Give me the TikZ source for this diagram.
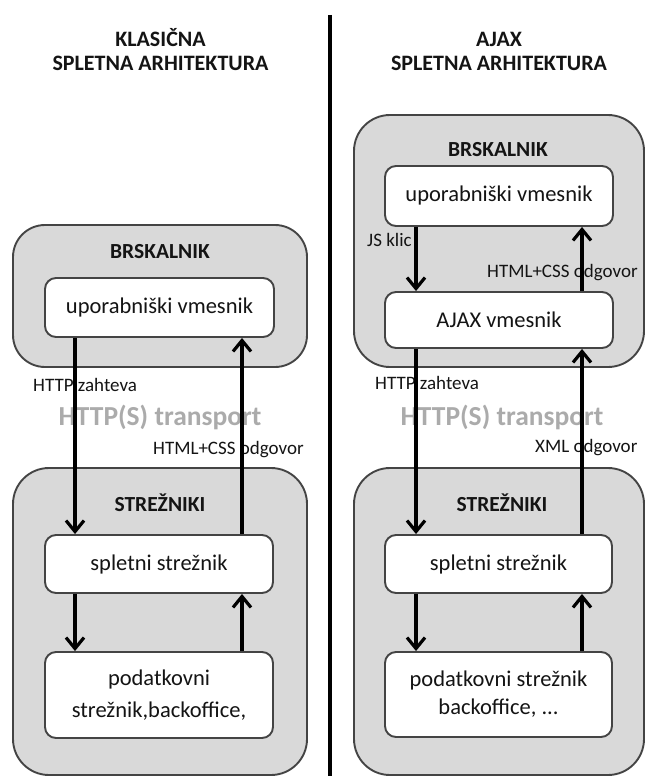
\documentclass[tikz,border=0pt]{standalone}
\usepackage{fontspec}
\setmainfont{Carlito}
\usetikzlibrary{arrows.meta}
\definecolor{boxline}{HTML}{444444}
\definecolor{outerfill}{HTML}{D9D9D9}
\definecolor{transportgray}{HTML}{ABABAB}
\definecolor{inktext}{HTML}{141414}

\begin{document}
\begin{tikzpicture}[x=1pt,y=-1pt,
  outerbox/.style={draw=boxline, fill=outerfill, line width=1.9pt, rounded corners=32pt, inner sep=0pt},
  innerbox/.style={draw=boxline, fill=white, line width=1.9pt, rounded corners=11pt, inner sep=0pt,
    text=inktext, font=\fontsize{22.5}{31}\selectfont, align=center},
  title/.style={font=\bfseries\fontsize{22}{24}\selectfont, align=center, text=inktext},
  grouplabel/.style={font=\bfseries\fontsize{21.5}{23}\selectfont, text=inktext},
  flowlabel/.style={font=\fontsize{19}{21}\selectfont, text=inktext, anchor=west, inner sep=0pt},
  transport/.style={font=\bfseries\fontsize{27.5}{30}\selectfont, text=transportgray},
  arr/.style={line width=3.2pt, -{Straight Barb[length=11pt,width=18pt,line width=3.2pt]}},
  divider/.style={line width=3.8pt}
]
\useasboundingbox (0,0) rectangle (650,776);

% column titles and the separating rule
\node[title] (tL) at (160.5,50) {KLASIČNA\\SPLETNA ARHITEKTURA};
\node[title] (tR) at (499,51.5) {AJAX\\SPLETNA ARHITEKTURA};
\coordinate (divTop) at (330,15);
\coordinate (divBot) at (330,776);
\draw[divider] (divTop) -- (divBot);

% ---------- classic architecture ----------
\node[outerbox, minimum width=294pt, minimum height=142pt] (brL) at (160,296) {};
\node[grouplabel] (brLlab) at (160,252) {BRSKALNIK};
\node[innerbox, minimum width=229pt, minimum height=59pt] (upL) at (159.5,307.5) {uporabniški vmesnik};

\node[outerbox, minimum width=294pt, minimum height=307pt, rounded corners=36pt] (szL) at (160,621.5) {};
\node[grouplabel] (szLlab) at (160,503) {STREŽNIKI};
\node[innerbox, minimum width=228pt, minimum height=58pt] (spL) at (159,564) {spletni strežnik};
\node[innerbox, minimum width=228pt, minimum height=86pt, font=\fontsize{22.5}{32}\selectfont] (dbL) at (159,695) {podatkovni\\strežnik,backoffice,};

\node[flowlabel] (htL) at (33,385) {HTTP zahteva};
\node[transport] (trL) at (160,417) {HTTP(S) transport};
\node[flowlabel] (odL) at (153,450) {HTML+CSS odgovor};

% ---------- AJAX architecture ----------
\node[outerbox, minimum width=290pt, minimum height=252pt, rounded corners=36pt] (brR) at (499,241) {};
\node[grouplabel] (brRlab) at (498,150) {BRSKALNIK};
\node[innerbox, minimum width=228pt, minimum height=60pt] (upR) at (499,196) {uporabniški vmesnik};
\node[innerbox, minimum width=228pt, minimum height=56pt] (ajR) at (499,320) {AJAX vmesnik};
\node[flowlabel] (jsR) at (367,240) {JS klic};
\node[flowlabel] (odR) at (487,273) {HTML+CSS odgovor};

\node[outerbox, minimum width=290pt, minimum height=307pt, rounded corners=36pt] (szR) at (499,621.5) {};
\node[grouplabel] (szRlab) at (502,503) {STREŽNIKI};
\node[innerbox, minimum width=227pt, minimum height=58pt] (spR) at (498.5,564) {spletni strežnik};
\node[innerbox, minimum width=227pt, minimum height=85pt, font=\fontsize{22.5}{28}\selectfont] (dbR) at (498.5,694.5) {podatkovni strežnik\\backoffice, ...};

\node[flowlabel] (htR) at (375,383) {HTTP zahteva};
\node[transport] (trR) at (502,417) {HTTP(S) transport};
\node[flowlabel] (xmR) at (535,448) {XML odgovor};

% arrow columns
\coordinate (cL1) at (75,0);
\coordinate (cL2) at (242,0);
\coordinate (cR1) at (416,0);
\coordinate (cR2) at (582,0);

% classic flows
\draw[arr] (upL.south -| cL1) -- (spL.north -| cL1);
\draw[arr] (spL.north -| cL2) -- (upL.south -| cL2);
\draw[arr] (spL.south -| cL1) -- (dbL.north -| cL1);
\draw[arr] (dbL.north -| cL2) -- (spL.south -| cL2);

% AJAX flows
\draw[arr] (upR.south -| cR1) -- (ajR.north -| cR1);
\draw[arr] (ajR.north -| cR2) -- (upR.south -| cR2);
\draw[arr] (ajR.south -| cR1) -- (spR.north -| cR1);
\draw[arr] (spR.north -| cR2) -- (ajR.south -| cR2);
\draw[arr] (spR.south -| cR1) -- (dbR.north -| cR1);
\draw[arr] (dbR.north -| cR2) -- (spR.south -| cR2);
\end{tikzpicture}
\end{document}
